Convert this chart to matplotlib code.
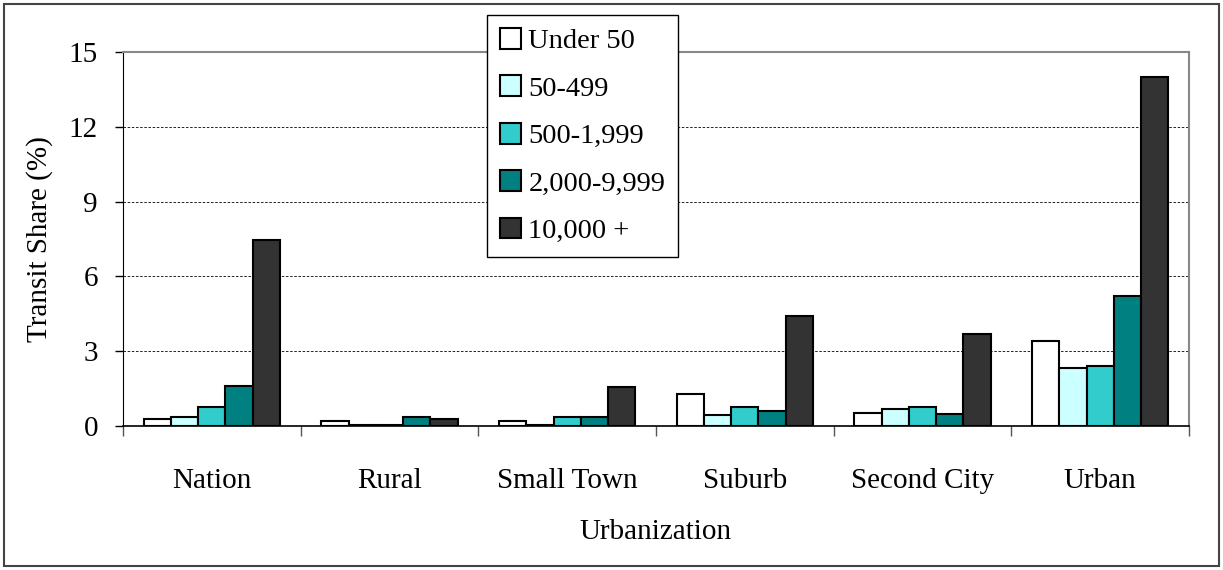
import matplotlib
matplotlib.use('Agg')
import matplotlib.pyplot as plt
from matplotlib.patches import Rectangle
import numpy as np

categories = ['Nation', 'Rural', 'Small Town', 'Suburb', 'Second City', 'Urban']
series_names = ['Under 50', '50-499', '500-1,999', '2,000-9,999', '10,000 +']
under_50 = [0.28, 0.20, 0.20, 1.28, 0.51, 3.41]
s_50_499 = [0.36, 0.05, 0.05, 0.44, 0.70, 2.33]
s_500_1999 = [0.76, 0.05, 0.36, 0.76, 0.76, 2.41]
s_2000_9999 = [1.60, 0.36, 0.36, 0.62, 0.50, 5.21]
s_10000_plus = [7.46, 0.28, 1.58, 4.41, 3.68, 14.0]
yticks = [0, 3, 6, 9, 12, 15]

series = [under_50, s_50_499, s_500_1999, s_2000_9999, s_10000_plus]
colors = ['#FFFFFF', '#CCFFFF', '#33CCCC', '#008080', '#333333']

plt.rcParams['font.family'] = ['Liberation Serif', 'DejaVu Serif']
FS = 21

W, H = 1223, 570
fig = plt.figure(figsize=(W / 100, H / 100), dpi=100)
ax = fig.add_axes([123 / W, 1 - 426 / H, (1189 - 123) / W, (426 - 52) / H])

n = len(series)
bw = 0.766 / n
x = np.arange(len(categories)) + 0.5
for k, (vals, col, name) in enumerate(zip(series, colors, series_names)):
    ax.bar(x + (k - (n - 1) / 2) * bw, vals, width=bw, color=col,
           edgecolor='black', linewidth=1.5, label=name, zorder=3)

ax.set_xlim(0, len(categories))
ax.set_ylim(0, 15)
ax.set_yticks(yticks)
for y in yticks[1:-1]:
    ax.axhline(y, color='black', linewidth=0.6, linestyle=(0, (3, 2)), zorder=1)

# group separators as major ticks, labels on minor ticks
ax.set_xticks(np.arange(len(categories) + 1))
ax.set_xticklabels([])
ax.set_xticks(x, minor=True)
ax.set_xticklabels(categories, minor=True)
ax.tick_params(axis='x', which='major', direction='out', length=7, width=1, color='#555555')
ax.tick_params(axis='x', which='minor', length=0, pad=30, labelsize=FS)
ax.tick_params(axis='y', direction='out', length=6, width=1, pad=12, labelsize=FS)

ax.spines['left'].set_color('black')
ax.spines['bottom'].set_color('black')
ax.spines['bottom'].set_linewidth(1.2)
ax.spines['top'].set_color('#888888')
ax.spines['right'].set_color('#888888')
ax.spines['top'].set_linewidth(1.5)
ax.spines['right'].set_linewidth(1.5)

ax.set_ylabel('Transit Share (%)', fontsize=FS, labelpad=11)
ax.set_xlabel('Urbanization', fontsize=FS, labelpad=18)

leg = ax.legend(loc='upper left', bbox_to_anchor=(487 / W, 1 - 15 / H),
                bbox_transform=fig.transFigure, fontsize=FS - 0.5, frameon=True,
                fancybox=False, edgecolor='black', framealpha=1,
                handlelength=0.75, handleheight=0.75, handletextpad=0.25,
                labelspacing=0.74, borderpad=0.45, borderaxespad=0)
leg.get_frame().set_linewidth(1)
leg.set_zorder(5)

fig.patches.append(Rectangle((4 / W, 4 / H), 1 - 8 / W, 1 - 8 / H,
                             transform=fig.transFigure, fill=False,
                             edgecolor='#444444', linewidth=1.5))

fig.savefig('out.png', dpi=100)
